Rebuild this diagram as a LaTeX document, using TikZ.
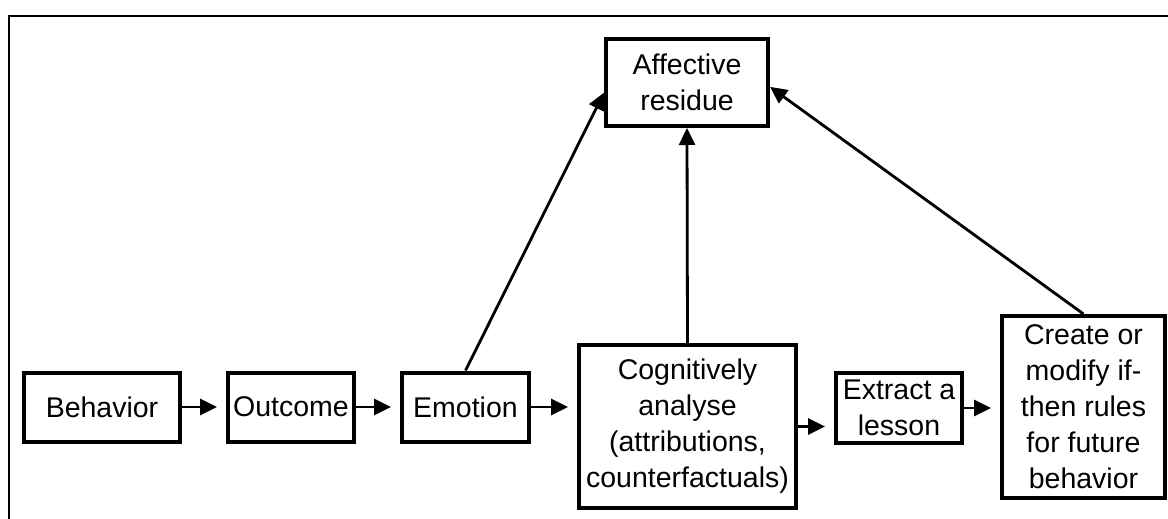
\documentclass[tikz,border=0pt]{standalone}
\usepackage{fontspec}
\setmainfont{Liberation Sans}
\usetikzlibrary{arrows.meta}

\begin{document}
\begin{tikzpicture}[x=1pt, y=-1pt,
    box/.style={draw, line width=4pt, inner sep=0pt, align=center,
      font=\fontsize{28.5}{36}\selectfont},
    arr/.style={line width=2.8pt, -{Triangle[length=17pt, width=16pt]}}]
  \useasboundingbox (0,0) rectangle (1168,519);
  % frame, cut off at right and bottom
  \draw[line width=1.5pt] (9,519) -- (9,16) -- (1168,16);

  \node[box, minimum width=156, minimum height=69] (beh) at (102,407) {Behavior};
  \node[box, minimum width=126, minimum height=69] (out) at (291,407) {Outcome};
  \node[box, minimum width=127, minimum height=69] (emo) at (465.5,407) {Emotion};
  \node[box, minimum width=217, minimum height=163] (cog) at (687.5,426.5)
    {Cognitively\\analyse\\(attributions,\\counterfactuals)};
  \node[box, minimum width=162, minimum height=87] (aff) at (687,82.5) {Affective\\residue};
  \node[box, minimum width=126, minimum height=70] (ext) at (899,408) {Extract a\\lesson};
  \node[box, minimum width=163, minimum height=182] (cre) at (1083.5,407)
    {Create or\\modify if-\\then rules\\for future\\behavior};

  \foreach \a/\b in {beh/out, out/emo, emo/cog, cog/ext, ext/cre}{
    \draw[arr, shorten >=9pt] (\a.east) -- (\a.east -| \b.west);
  }
  \draw[arr] (emo.north) -- (aff.187);
  \draw[arr] (cog.north) -- (aff.south);
  \draw[arr] (cre.north) -- (aff.-3);
\end{tikzpicture}
\end{document}
